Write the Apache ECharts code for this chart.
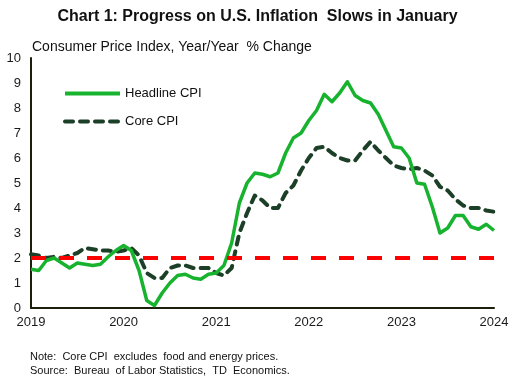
<!DOCTYPE html>
<html><head><meta charset="utf-8">
<script src="https://cdn.jsdelivr.net/npm/echarts@6/dist/echarts.min.js"></script>
<style>html,body{margin:0;padding:0;background:#fff}#c{width:515px;height:384px}</style>
</head><body><div id="c"></div>
<script>
// Monthly, Jan 2019 .. Jan 2024
const startYear = 2019;
const yearTicks = ['2019','2020','2021','2022','2023','2024'];
const headline = [
 1.55,1.5,1.9,2.0,1.8,1.6,1.8,1.75,1.7,1.75,2.05,2.3,
 2.5,2.3,1.5,0.3,0.1,0.6,1.0,1.3,1.35,1.2,1.15,1.35,
 1.4,1.7,2.6,4.2,5.0,5.4,5.35,5.25,5.4,6.2,6.8,7.0,
 7.5,7.9,8.55,8.25,8.6,9.05,8.5,8.3,8.2,7.75,7.1,6.45,
 6.4,6.0,5.0,4.95,4.05,3.0,3.2,3.7,3.7,3.25,3.15,3.35,
 3.1
];
const core = [
 2.15,2.1,2.0,2.05,2.0,2.1,2.2,2.4,2.35,2.3,2.3,2.25,
 2.3,2.4,2.1,1.4,1.2,1.2,1.6,1.7,1.7,1.6,1.6,1.6,
 1.4,1.3,1.6,3.0,3.8,4.5,4.3,4.0,4.0,4.6,4.9,5.5,
 6.0,6.4,6.45,6.2,6.0,5.9,5.9,6.3,6.65,6.3,6.0,5.7,
 5.6,5.55,5.6,5.5,5.3,4.85,4.7,4.35,4.1,4.0,4.0,3.9,
 3.85
];
const target = 2;
const yTicks = [0,1,2,3,4,5,6,7,8,9,10];

const hData = headline.map((v,i)=>[i,v]);
const cData = core.map((v,i)=>[i,v]);
const chart = echarts.init(document.getElementById('c'), null, {renderer:'canvas'});
const txt = '#1a1a1a';
chart.setOption({
  animation:false,
  backgroundColor:'#fff',
  textStyle:{fontFamily:'Liberation Sans, Arial, sans-serif'},
  title:[
    {text:'Chart 1: Progress on U.S. Inflation  Slows in January', left:'center', top:4,
     textStyle:{fontSize:16,fontWeight:'bold',color:'#111',fontFamily:'Liberation Sans, Arial'}},
    {text:'Consumer Price Index, Year/Year  % Change', left:27, top:35,
     textStyle:{fontSize:14,fontWeight:'normal',color:'#111',fontFamily:'Liberation Sans, Arial'}},
    {text:'Note:  Core CPI  excludes  food and energy prices.\nSource:  Bureau  of Labor Statistics,  TD  Economics.', left:25, top:345,
     textStyle:{fontSize:11,fontWeight:'normal',color:'#111',lineHeight:14,fontFamily:'Liberation Sans, Arial'}}
  ],
  legend:{
    orient:'vertical', left:58, top:82, itemGap:15, itemWidth:55, itemHeight:10,
    itemStyle:{opacity:0},
    lineStyle:{width:4},
    textStyle:{fontSize:13,color:'#111',fontFamily:'Liberation Sans, Arial'},
    data:['Headline CPI','Core CPI']
  },
  grid:{left:31, right:21, top:58, bottom:76, containLabel:false},
  xAxis:{
    type:'value', min:0, max:60, interval:12,
    axisLine:{show:true, lineStyle:{color:'#1d1d0c', width:2}},
    axisTick:{show:false},
    splitLine:{show:false},
    axisLabel:{fontSize:13, color:txt, margin:8,
      formatter:(v)=>yearTicks[Math.round(v/12)]}
  },
  yAxis:{
    type:'value', min:yTicks[0], max:yTicks[yTicks.length-1], interval:1,
    axisLine:{show:true, lineStyle:{color:'#1d1d0c', width:2}},
    axisTick:{show:false},
    splitLine:{show:false},
    axisLabel:{fontSize:13, color:txt, margin:10}
  },
  series:[
    {name:'Headline CPI', type:'line', data:hData, symbol:'none', z:4,
     lineStyle:{color:'#17b32f', width:3.5, join:'round'}, itemStyle:{color:'#17b32f'},
     markLine:{silent:true, symbol:'none', label:{show:false},
       lineStyle:{color:'#ff0000', width:4, type:[15,13]},
       data:[{yAxis:target}]}},
    {name:'Core CPI', type:'line', data:cData, symbol:'none', z:3,
     lineStyle:{color:'#1c3f27', width:4, type:[8,7], cap:'round', join:'round'}, itemStyle:{color:'#1c3f27'}}
  ]
});
</script></body></html>
